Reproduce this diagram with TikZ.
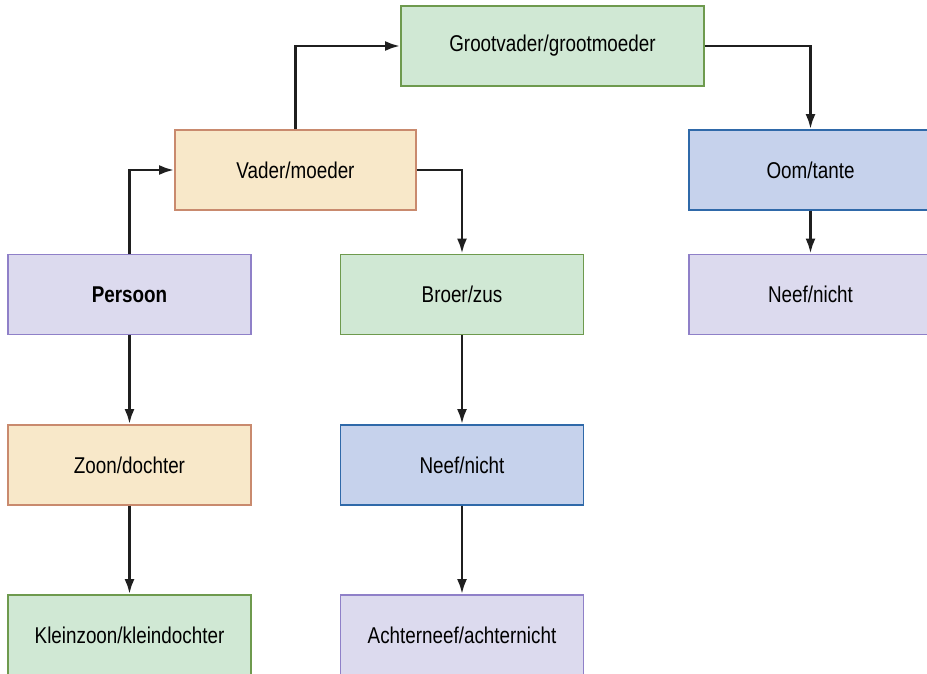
\documentclass[tikz,border=0pt]{standalone}
\usepackage{fontspec}
\setmainfont{Liberation Sans}[FakeStretch=0.825]
\usetikzlibrary{arrows.meta}

\definecolor{greenfill}{HTML}{D0E8D4}
\definecolor{greenline}{HTML}{6E9A4E}
\definecolor{orangefill}{HTML}{F8E8C9}
\definecolor{orangeline}{HTML}{C98A6E}
\definecolor{lilacfill}{HTML}{DCDAEE}
\definecolor{lilacline}{HTML}{8F80C8}
\definecolor{bluefill}{HTML}{C6D2EC}
\definecolor{blueline}{HTML}{2F69A9}

\begin{document}
\begin{tikzpicture}[x = 0.3mm, y = -0.3mm, > = {Latex[length = 13pt, width = 8.5pt]},
	font = \fontsize{19.5}{22}\selectfont,
	box/.style = {draw, line width = 1.1pt, minimum width = 72.9mm, minimum height = 24mm, inner sep = 0pt},
	green/.style = {box, fill = greenfill, draw = greenline},
	orange/.style = {box, fill = orangefill, draw = orangeline},
	lilac/.style = {box, fill = lilacfill, draw = lilacline},
	blue/.style = {box, fill = bluefill, draw = blueline},
	link/.style = {->, line width = 2.5pt, draw = black!88}]

	% Definitions

	\useasboundingbox (0, 0) rectangle (927, 674);
	\clip (0, 0) rectangle (927, 674);

	\def\xa{129.5}		% Column x coordinates
	\def\xb{462}
	\def\xc{810.5}

	% Draw boxes

	\node [green, minimum width = 90.9mm] (grand) at (552.5, 46) {Grootvader/grootmoeder};
	\node [orange, minimum width = 72.3mm] (parent) at (295.5, 170) {Vader/moeder};
	\node [blue] (uncle) at (\xc, 170) {Oom/tante};

	\node [lilac] (self) at (\xa, 294.5) {\textbf{Persoon}};
	\node [green] (sibling) at (\xb, 294.5) {Broer/zus};
	\node [lilac] (cousin) at (\xc, 294.5) {Neef/nicht};

	\node [orange] (child) at (\xa, 465) {Zoon/dochter};
	\node [blue] (nephew) at (\xb, 465) {Neef/nicht};

	\node [green] (grandchild) at (\xa, 635) {Kleinzoon/kleindochter};
	\node [lilac] (grandnephew) at (\xb, 635) {Achterneef/achternicht};

	% Draw links

	\draw [link] (self.north) |- (parent.west);
	\draw [link] (parent.north) |- (grand.west);
	\draw [link] (grand.east) -| (uncle.north);
	\draw [link] (parent.east) -| (sibling.north);
	\draw [link] (uncle) -- (cousin);
	\draw [link] (self) -- (child);
	\draw [link] (child) -- (grandchild);
	\draw [link] (sibling) -- (nephew);
	\draw [link] (nephew) -- (grandnephew);

\end{tikzpicture}
\end{document}
